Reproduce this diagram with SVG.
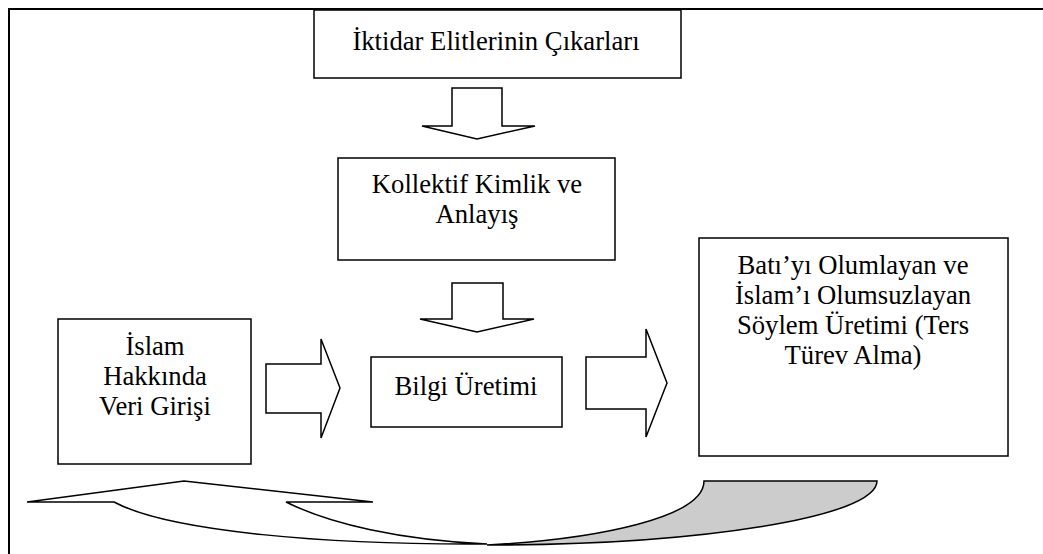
<svg xmlns="http://www.w3.org/2000/svg" width="1043" height="554" viewBox="0 0 1043 554">
<style>
.box{fill:#fff;stroke:#000;stroke-width:1.5}
.arr{fill:#fff;stroke:#000;stroke-width:1.5;stroke-linejoin:miter}
.gray{fill:#cccccc;stroke:#000;stroke-width:1.5}
text{font-family:"Liberation Serif","Times New Roman",serif;font-size:26.67px;fill:#000;text-anchor:middle}
</style>
<rect width="1043" height="554" fill="#fff"/>
<path d="M1046 9 H9 V556" fill="none" stroke="#000" stroke-width="2"/>
<g id="connectors">
<polygon class="arr" points="452,88 502,88 502,126 535,126 477,139 422,126 452,126"/>
<polygon class="arr" points="452,283 503,283 503,319 534,319 477,332 420,319 452,319"/>
<polygon class="arr" points="266,364 321,364 321,339 340,388 321,438 321,413 266,413"/>
<polygon class="arr" points="586,357 646,357 646,329 667,383 646,437 646,409 586,409"/>
<g id="curved-arrow">
<path class="arr" d="M27,502 L184,481 L373,502 L286,502 C330,524 400,540 487,544 C330,545 170,532 114,502 Z"/>
<path class="gray" d="M704,481 H877 C877,517 700,545 487,545 C600,539 704,517 704,481 Z"/>
</g>
</g>
<g id="node-iktidar">
<rect class="box" x="314" y="10" width="367" height="68"/>
<text x="496" y="50">İktidar Elitlerinin Çıkarları</text>
</g>
<g id="node-kollektif">
<rect class="box" x="338" y="158" width="277" height="102"/>
<text x="477" y="193">Kollektif Kimlik ve</text>
<text x="477" y="223">Anlayış</text>
</g>
<g id="node-islam">
<rect class="box" x="58" y="319" width="193" height="145"/>
<text x="155" y="355">İslam</text>
<text x="155" y="385">Hakkında</text>
<text x="155" y="415">Veri Girişi</text>
</g>
<g id="node-bilgi">
<rect class="box" x="371" y="357" width="191" height="70"/>
<text x="466" y="395">Bilgi Üretimi</text>
</g>
<g id="node-bati">
<rect class="box" x="699" y="238" width="309" height="218"/>
<text x="853" y="274">Batı’yı Olumlayan ve</text>
<text x="853" y="304">İslam’ı Olumsuzlayan</text>
<text x="853" y="334">Söylem Üretimi (Ters</text>
<text x="853" y="364">Türev Alma)</text>
</g>
</svg>
